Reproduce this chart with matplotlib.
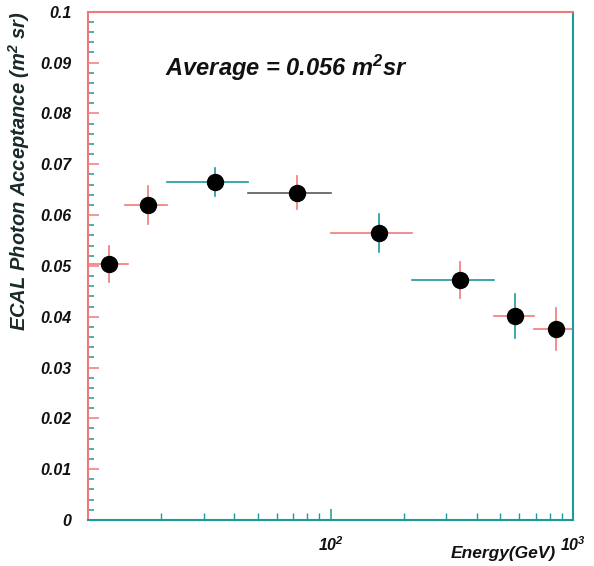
import matplotlib
matplotlib.use('Agg')
import matplotlib.pyplot as plt
from matplotlib.ticker import LogLocator, NullFormatter, MultipleLocator

# data
energy = [12.2, 17.7, 33.5, 73, 158, 341, 575, 851]      # GeV
bin_lo = [10.0, 14.2, 21.2, 45.5, 100, 216, 472, 690]
bin_hi = [14.6, 21.2, 45.8, 100, 216, 472, 690, 1000]
acceptance = [0.0504, 0.0620, 0.0665, 0.0644, 0.0565, 0.0472, 0.0402, 0.0376]
acc_err = [0.0036, 0.0037, 0.0027, 0.0033, 0.0037, 0.0036, 0.0043, 0.0041]

ytick_vals = [0, 0.01, 0.02, 0.03, 0.04, 0.05, 0.06, 0.07, 0.08, 0.09, 0.1]
ytick_labels = ['0', '0.01', '0.02', '0.03', '0.04', '0.05', '0.06', '0.07', '0.08', '0.09', '0.1']
xtick_vals = [100, 1000]
xtick_labels = [r'$10^{2}$', r'$10^{3}$']

red = '#f07a7a'
teal = '#1a9a9a'
grey = '#5a5a5a'
xerr_col = [red, red, teal, grey, red, teal, red, red]
yerr_col = [red, red, teal, red, teal, red, teal, red]

plt.rcParams['font.family'] = 'Liberation Sans'
plt.rcParams['font.weight'] = 'bold'
plt.rcParams['font.style'] = 'italic'
plt.rcParams['axes.labelweight'] = 'bold'
plt.rcParams['mathtext.fontset'] = 'custom'
plt.rcParams['mathtext.rm'] = 'Liberation Sans:italic:bold'
plt.rcParams['mathtext.it'] = 'Liberation Sans:italic:bold'
plt.rcParams['mathtext.bf'] = 'Liberation Sans:italic:bold'

fig = plt.figure(figsize=(5.94, 5.66), dpi=100)
ax = fig.add_axes([0.148, 0.0813, 0.817, 0.898])

for i in range(len(energy)):
    x = energy[i]
    y = acceptance[i]
    ax.plot([bin_lo[i], bin_hi[i]], [y, y], color=xerr_col[i], lw=1.2, zorder=2)
    ax.plot([x, x], [y - acc_err[i], y + acc_err[i]], color=yerr_col[i], lw=1.2, zorder=2)
ax.plot(energy, acceptance, 'o', color='black', ms=11.5, zorder=3)

ax.set_xscale('log')
ax.set_xlim(10, 1000)
ax.set_ylim(0, 0.1)

ax.set_yticks(ytick_vals)
ax.set_yticklabels(ytick_labels)
ax.yaxis.set_minor_locator(MultipleLocator(0.002))
ax.set_xticks(xtick_vals)
ax.set_xticklabels(xtick_labels)
ax.xaxis.set_minor_locator(LogLocator(base=10, subs=range(2, 10)))
ax.xaxis.set_minor_formatter(NullFormatter())

ax.tick_params(axis='y', which='major', direction='in', length=8, width=1.1,
               color=red, labelsize=11.5, pad=12, labelcolor='#111111')
ax.tick_params(axis='y', which='minor', direction='in', length=4, width=1.1, color=teal)
ax.tick_params(axis='x', which='major', direction='in', length=8, width=1.1,
               color=teal, labelsize=11.5, pad=11, labelcolor='#111111')
ax.tick_params(axis='x', which='minor', direction='in', length=5, width=1.0, color=teal)
ax.tick_params(right=False, top=False)

ax.spines['left'].set_color(red)
ax.spines['top'].set_color(red)
ax.spines['bottom'].set_color(teal)
ax.spines['right'].set_color(teal)
for s in ax.spines.values():
    s.set_linewidth(1.5)

ax.set_ylabel('ECAL Photon Acceptance (m$^{2}$ sr)', fontsize=14.5, color='#1a2a2a', loc='top')
ax.yaxis.set_label_coords(-0.116, 1.0)
ax.set_xlabel('Energy(GeV)', fontsize=12.5, color='#111111', loc='right')
ax.xaxis.set_label_coords(0.965, -0.052)

ax.text(0.408, 0.89, 'Average = 0.056 m$^{2}$sr', transform=ax.transAxes,
        fontsize=17, ha='center', va='center', color='#111111')

fig.savefig('out.png', dpi=100)
